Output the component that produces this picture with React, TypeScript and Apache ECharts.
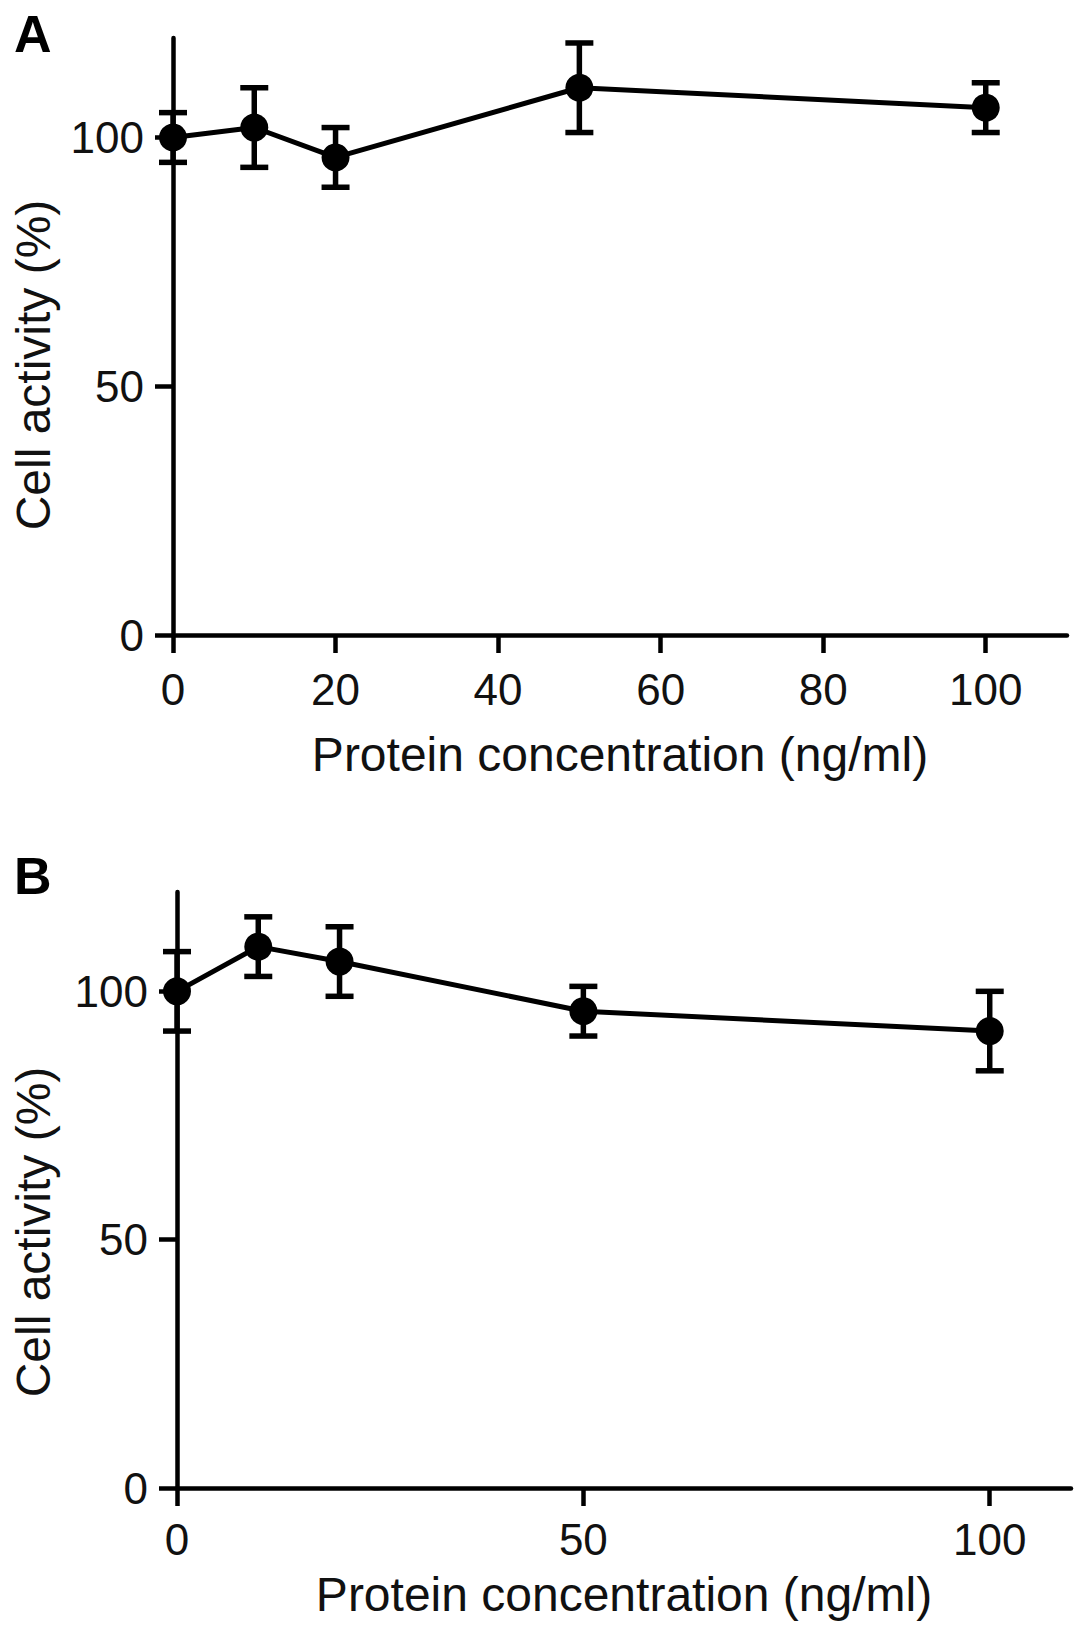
import { useEffect, useRef } from 'react';
import * as echarts from 'echarts';

// panel A
const concA = [0, 10, 20, 50, 100];
const meanA = [100, 102, 96, 110, 106];
const errA = [5, 8, 6, 9, 5];
// panel B
const concB = [0, 10, 20, 50, 100];
const meanB = [100, 109, 106, 96, 92];
const errB = [8, 6, 7, 5, 8];

const xTicksA = [0, 20, 40, 60, 80, 100];
const xTicksB = [0, 50, 100];
const yTicks = [0, 50, 100];

const xName = 'Protein concentration (ng/ml)';
const yName = 'Cell activity (%)';

const FONT = "'Liberation Sans', Arial, Helvetica, sans-serif";
const INK = '#000';

function xAxisFor(gridIndex: number, ticks: number[], nameGap: number, margin: number) {
  return {
    gridIndex,
    type: 'value',
    min: 0,
    max: 110,
    axisLine: { show: true, lineStyle: { color: INK, width: 4.5 } },
    axisTick: { show: true, length: 18, customValues: ticks, lineStyle: { color: INK, width: 4.5 } },
    axisLabel: { customValues: ticks, margin, fontSize: 44, color: '#111', fontFamily: FONT },
    splitLine: { show: false },
    name: xName,
    nameLocation: 'middle',
    nameGap,
    nameTextStyle: { fontSize: 48, color: '#111', fontFamily: FONT },
  };
}

function yAxisFor(gridIndex: number) {
  return {
    gridIndex,
    type: 'value',
    min: 0,
    max: 120,
    axisLine: { show: true, lineStyle: { color: INK, width: 4.5 } },
    axisTick: { show: true, length: 18, customValues: yTicks, lineStyle: { color: INK, width: 4.5 } },
    axisLabel: { customValues: yTicks, margin: 29, fontSize: 44, color: '#111', fontFamily: FONT },
    splitLine: { show: false },
  };
}

function errorBars(idx: number, xs: number[], means: number[], errs: number[]) {
  return {
    type: 'custom',
    xAxisIndex: idx,
    yAxisIndex: idx,
    clip: false,
    z: 3,
    data: xs.map((x, i) => [x, means[i] - errs[i], means[i] + errs[i]]),
    renderItem: (_params: any, api: any) => {
      const lo = api.coord([api.value(0), api.value(1)]);
      const hi = api.coord([api.value(0), api.value(2)]);
      const half = 14;
      const style = { stroke: INK, lineWidth: 5.5 };
      return {
        type: 'group',
        children: [
          { type: 'line', shape: { x1: lo[0], y1: lo[1], x2: hi[0], y2: hi[1] }, style },
          { type: 'line', shape: { x1: lo[0] - half, y1: lo[1], x2: lo[0] + half, y2: lo[1] }, style },
          { type: 'line', shape: { x1: hi[0] - half, y1: hi[1], x2: hi[0] + half, y2: hi[1] }, style },
        ],
      };
    },
  };
}

function meanLine(idx: number, xs: number[], means: number[]) {
  return {
    type: 'line',
    xAxisIndex: idx,
    yAxisIndex: idx,
    data: xs.map((x, i) => [x, means[i]]),
    symbol: 'circle',
    symbolSize: 28,
    clip: false,
    z: 4,
    itemStyle: { color: INK },
    lineStyle: { color: INK, width: 5 },
  };
}

function yTitle(y: number) {
  return {
    type: 'text',
    x: 33,
    y,
    rotation: Math.PI / 2,
    style: {
      text: yName,
      font: `48px ${FONT}`,
      fill: '#111',
      textAlign: 'center',
      textVerticalAlign: 'middle',
    },
  };
}

export default function App() {
  const ref = useRef<HTMLDivElement>(null);

  useEffect(() => {
    if (!ref.current) return;
    document.body.style.margin = '0';
    const chart = echarts.init(ref.current, undefined, { renderer: 'svg' });
    chart.setOption({
      animation: false,
      backgroundColor: '#fff',
      textStyle: { fontFamily: FONT },
      title: [
        { text: 'A', left: 14, top: 8, padding: 0, textStyle: { fontSize: 52, fontWeight: 'bold', color: INK, fontFamily: FONT } },
        { text: 'B', left: 14, top: 850, padding: 0, textStyle: { fontSize: 52, fontWeight: 'bold', color: INK, fontFamily: FONT } },
      ],
      grid: [
        { left: 173, top: 38, width: 894, height: 597 },
        { left: 177, top: 892, width: 894, height: 596 },
      ],
      xAxis: [xAxisFor(0, xTicksA, 95, 32), xAxisFor(1, xTicksB, 82, 29)],
      yAxis: [yAxisFor(0), yAxisFor(1)],
      graphic: [yTitle(365), yTitle(1232)],
      series: [
        errorBars(0, concA, meanA, errA),
        meanLine(0, concA, meanA),
        errorBars(1, concB, meanB, errB),
        meanLine(1, concB, meanB),
      ],
    });
    return () => {
      chart.dispose();
    };
  }, []);

  return <div ref={ref} style={{ width: 1087, height: 1638 }} />;
}
